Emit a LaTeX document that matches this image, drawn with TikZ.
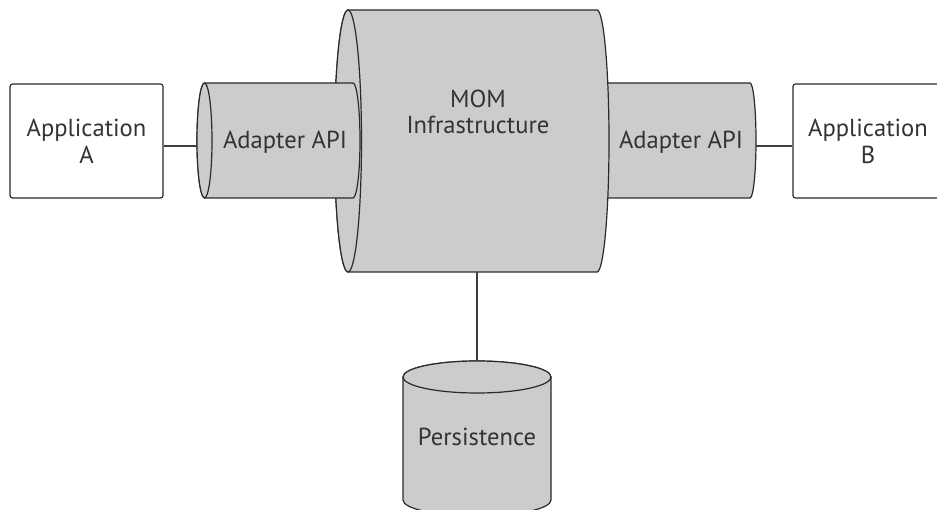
\documentclass[tikz,border=0pt]{standalone}
\usepackage{fontspec}
\setmainfont{PT Sans}
\usetikzlibrary{calc}
\definecolor{partgray}{HTML}{CCCCCC}
\definecolor{linec}{HTML}{2A2A2A}
\definecolor{textc}{HTML}{333333}

\begin{document}
\begin{tikzpicture}[x=1pt,y=-1pt]
      \tikzset{appbox/.style = {draw=linec,fill=white,line width=1.2pt,rounded corners=2.5pt,
          minimum height=114pt,align=center,text=textc,font=\fontsize{24.6}{27}\selectfont}}
      \tikzset{part/.style = {draw=linec,fill=partgray,line width=1.2pt}}
      \tikzset{label/.style = {text=textc,align=center,font=\fontsize{24.6}{26}\selectfont}}
      \tikzset{link/.style = {-,draw=linec!90,line width=1.1pt}}
      \clip (0,0) rectangle (937,510);

      % right adapter (behind the MOM)
      \draw[part] (597,83) -- (750,83) arc[start angle=-90,end angle=90,x radius=6,y radius=57.5]
          -- (597,198) -- cycle;
      % MOM
      \draw[part] (348,10) -- (597,10) arc[start angle=-90,end angle=90,x radius=12,y radius=131]
          -- (348,272) arc[start angle=90,end angle=270,x radius=13.5,y radius=131] -- cycle;
      \draw[part] (348,141) ellipse[x radius=13.5,y radius=131];
      % left adapter
      \draw[part] (204.5,83) -- (353,83) arc[start angle=-90,end angle=90,x radius=7,y radius=57.5]
          -- (204.5,198) arc[start angle=90,end angle=270,x radius=7.5,y radius=57.5] -- cycle;
      \draw[part] (204.5,140.5) ellipse[x radius=7.5,y radius=57.5];
      % persistence
      \draw[part] (403,377) -- (403,500) arc[start angle=180,end angle=0,x radius=74,y radius=16]
          -- (551,377) arc[start angle=0,end angle=-180,x radius=74,y radius=16] -- cycle;
      \draw[part] (477,377) ellipse[x radius=74,y radius=16];

      \node[appbox,minimum width=153pt] (appA) at (86.5,141) {Application\\A};
      \node[appbox,minimum width=150pt] (appB) at (868,141) {Application\\B};
      \node[label] (adL) at (285,142) {Adapter API};
      \node[label] (adR) at (681,142) {Adapter API};
      \node[label] (mom) at (478,112) {MOM\\Infrastructure};
      \node[label] (pers) at (477,437) {Persistence};

      \coordinate (adLface) at (197,146);
      \coordinate (adRend) at (756,146);
      \coordinate (momfoot) at (477,272);
      \coordinate (perstop) at (477,361);

      \draw[link] (adLface -| appA.east) -- (adLface);
      \draw[link] (adRend) -- (adRend -| appB.west);
      \draw[link] (momfoot) -- (perstop);
    \end{tikzpicture}
\end{document}
